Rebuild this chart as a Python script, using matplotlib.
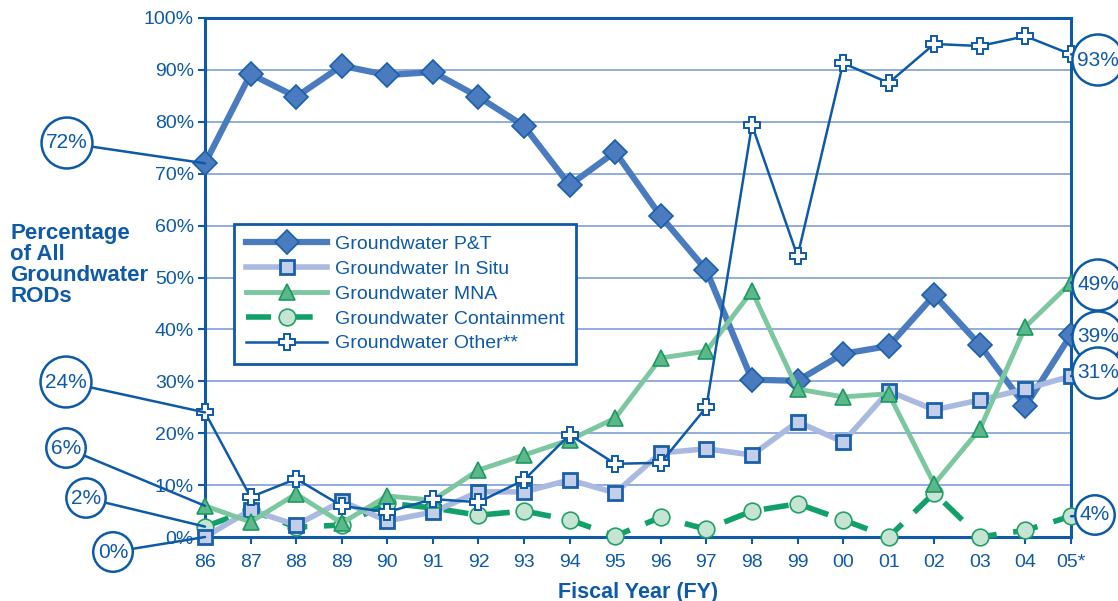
import matplotlib
matplotlib.use("Agg")
import matplotlib.pyplot as plt
import numpy as np

plt.rcParams["font.family"] = ["Liberation Sans", "DejaVu Sans"]

# data (percent of all groundwater RODs)

years = ["86", "87", "88", "89", "90", "91", "92", "93", "94", "95",
         "96", "97", "98", "99", "00", "01", "02", "03", "04", "05*"]
pt = [72, 89.2, 84.8, 90.8, 89.0, 89.6, 84.8, 79.2, 67.8, 74.2,
      61.8, 51.4, 30.3, 30.1, 35.3, 36.8, 46.6, 37.0, 25.2, 39]
in_situ = [0, 5.2, 2.3, 6.9, 3.1, 4.8, 8.7, 8.7, 11.0, 8.5,
           16.2, 17.0, 15.8, 22.2, 18.3, 28.1, 24.5, 26.4, 28.5, 31]
mna = [6, 2.9, 8.3, 2.7, 7.9, 7.1, 12.9, 15.8, 18.7, 22.9,
       34.5, 35.8, 47.4, 28.5, 27.0, 27.6, 10.2, 20.8, 40.5, 49]
containment = [2, 5.2, 1.9, 2.3, 6.5, 5.6, 4.2, 5.0, 3.3, 0.2,
               3.8, 1.5, 5.0, 6.4, 3.3, 0, 8.5, 0, 1.3, 4]
other = [24, 7.7, 11.2, 6.0, 4.8, 7.3, 6.7, 11.0, 19.7, 14.1,
         14.3, 25.0, 79.4, 54.1, 91.3, 87.5, 95.0, 94.6, 96.5, 93]

# callouts: (label, series, index, text position in pixels)
callouts_left = [("72%", pt, 0, (67, 143)),
                 ("24%", other, 0, (66, 382)),
                 ("6%", mna, 0, (66, 448)),
                 ("2%", containment, 0, (86, 498)),
                 ("0%", in_situ, 0, (113, 552))]
callouts_right = [("93%", other, 19, (1098, 60)),
                  ("49%", mna, 19, (1098, 285)),
                  ("39%", pt, 19, (1098, 337)),
                  ("31%", in_situ, 19, (1098, 373)),
                  ("4%", containment, 19, (1095, 515))]

BLUE = "#0e5aa7"
GRID = "#7f9fd8"

W, H = 1118, 601
fig = plt.figure(figsize=(W / 100, H / 100), dpi=100)
ax = fig.add_axes([205 / W, 1 - 537 / H, (1071 - 205) / W, (537 - 18) / H])

x = np.arange(len(years))

ax.plot(x, containment, color="#12a06a", lw=4, dashes=(4.5, 3), marker="o", ms=12,
        mfc="#c6e4d4", mec="#22a068", mew=1.2, zorder=3, clip_on=False,
        label="Groundwater Containment")
ax.plot(x, pt, color="#4a7bbf", lw=4.5, marker="D", ms=12,
        mfc="#4a7bbf", mec="#1a5fa8", mew=1.2, zorder=4, clip_on=False,
        label="Groundwater P&T")
ax.plot(x, in_situ, color="#a9b9e0", lw=4, marker="s", ms=10,
        mfc="#c3cfea", mec="#1a5fa8", mew=2, zorder=5, clip_on=False,
        label="Groundwater In Situ")
ax.plot(x, mna, color="#7cc6a0", lw=3.5, marker="^", ms=11,
        mfc="#5cb78a", mec="#1a9a60", mew=1.2, zorder=6, clip_on=False,
        label="Groundwater MNA")
ax.plot(x, other, color=BLUE, lw=1.8, marker="P", ms=12,
        mfc="white", mec=BLUE, mew=1.4, zorder=7, clip_on=False,
        label="Groundwater Other**")

ax.set_xlim(0, len(years) - 1)
ax.set_ylim(0, 100)
ax.set_xticks(x)
ax.set_xticklabels(years)
ax.set_yticks(np.arange(0, 101, 10))
ax.set_yticklabels([f"{v}%" for v in range(0, 101, 10)])
ax.tick_params(colors=BLUE, labelcolor=BLUE, labelsize=14, width=1.5, length=5)
ax.tick_params(axis="y", pad=3)
ax.tick_params(axis="x", pad=7)
ax.grid(axis="y", color=GRID, lw=1.2)
ax.set_axisbelow(True)
for s in ax.spines.values():
    s.set_color(BLUE)
    s.set_linewidth(2.2)

ax.set_xlabel("Fiscal Year (FY)", color=BLUE, fontsize=15.5, fontweight="bold", labelpad=8)
fig.text(10 / W, 1 - 265 / H, "Percentage\nof All\nGroundwater\nRODs", color=BLUE,
         fontsize=16, fontweight="bold", ha="left", va="center", linespacing=1.0)

# legend in the order of the reference
h, l = ax.get_legend_handles_labels()
order = [1, 2, 3, 0, 4]
leg = ax.legend([h[i] for i in order], [l[i] for i in order],
                loc="upper left", bbox_to_anchor=(234 / W, 1 - 224 / H),
                bbox_transform=fig.transFigure, fontsize=14, handlelength=4.2,
                labelcolor=BLUE, fancybox=False, borderpad=0.6,
                labelspacing=0.37, handletextpad=0.4, borderaxespad=0,
                framealpha=1)
leg.get_frame().set_edgecolor(BLUE)
leg.get_frame().set_linewidth(2)
leg.set_zorder(20)

# circled callouts
for label, series, i, (px, py) in callouts_left + callouts_right:
    ax.annotate(label, xy=(x[i], series[i]), xycoords="data",
                xytext=(px / W, 1 - py / H), textcoords="figure fraction",
                ha="center", va="center", fontsize=15, color=BLUE,
                bbox=dict(boxstyle="circle,pad=0.22", fc="white", ec=BLUE, lw=1.8),
                arrowprops=dict(arrowstyle="-", color=BLUE, lw=1.8,
                                shrinkA=0, shrinkB=0),
                annotation_clip=False, zorder=10)

fig.savefig("out.png", dpi=100)
